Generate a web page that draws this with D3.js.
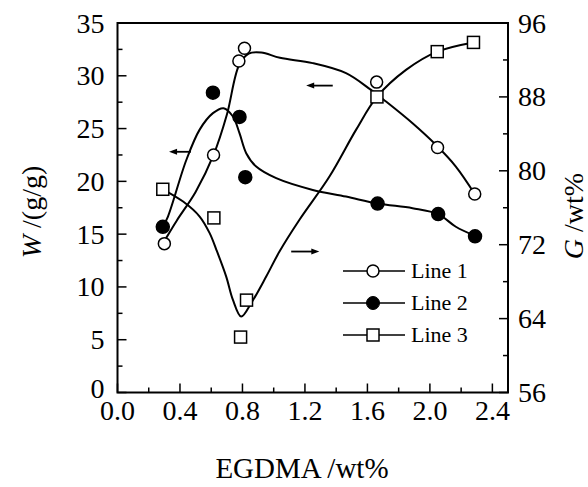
<!DOCTYPE html>
<html>
<head>
<meta charset="utf-8">
<script src="https://cdn.jsdelivr.net/npm/d3@7"></script>
<style>
  html, body { margin: 0; padding: 0; background: #fff; }
  svg { display: block; }
  text { font-family: "Liberation Serif", "Times New Roman", serif; fill: #000; }
</style>
</head>
<body>
<svg id="chart" width="588" height="487"></svg>
<script>
// Measured samples (EGDMA content in wt%)
const line1X = [0.30, 0.615, 0.777, 0.813, 1.659, 2.049, 2.287];
const line1W = [14.1, 22.5, 31.4, 32.6, 29.4, 23.2, 18.8];

const line2X = [0.29, 0.611, 0.781, 0.818, 1.665, 2.053, 2.289];
const line2W = [15.7, 28.4, 26.1, 20.4, 17.9, 16.9, 14.8];

const line3X = [0.29, 0.617, 0.788, 0.826, 1.661, 2.047, 2.279];
const line3G = [78.0, 74.9, 62.0, 66.0, 88.0, 92.9, 93.9];

// Smoothed trend curves for each series
const fit1X = [0.31, 0.38, 0.50, 0.615, 0.70, 0.778, 0.84, 0.92, 1.04, 1.25, 1.463, 1.623, 1.719, 1.889, 2.038, 2.166, 2.287];
const fit1W = [14.6, 16.3, 19.0, 22.5, 26.3, 31.0, 32.1, 32.2, 31.7, 31.2, 30.25, 28.66, 27.56, 25.5, 23.46, 21.4, 18.8];

const fit2X = [0.29, 0.323, 0.44, 0.526, 0.611, 0.679, 0.739, 0.781, 0.824, 0.888, 1.016, 1.25, 1.463, 1.665, 1.889, 2.053, 2.166, 2.289];
const fit2W = [15.7, 16.67, 22.0, 24.9, 26.46, 26.93, 26.14, 24.56, 22.67, 21.4, 20.3, 19.19, 18.56, 17.9, 17.46, 16.9, 15.7, 14.84];

const fit3X = [0.29, 0.42, 0.526, 0.59, 0.633, 0.696, 0.739, 0.792, 0.856, 0.952, 1.037, 1.165, 1.357, 1.527, 1.661, 1.847, 2.047, 2.279];
const fit3G = [78.0, 76.67, 75.05, 73.25, 71.45, 68.55, 66.03, 64.22, 65.68, 68.55, 71.26, 74.7, 79.38, 84.43, 88.0, 90.92, 92.9, 93.9];

// Axis ticks
const xTicks = [0.0, 0.4, 0.8, 1.2, 1.6, 2.0, 2.4];
const xMinor = [0.2, 0.6, 1.0, 1.4, 1.8, 2.2];
const wTicks = [0, 5, 10, 15, 20, 25, 30, 35];
const wMinor = [2.5, 7.5, 12.5, 17.5, 22.5, 27.5, 32.5];
const gTicks = [56, 64, 72, 80, 88, 96];
const gMinor = [60, 68, 76, 84, 92];

// Legend entries
const legendNames = ["Line 1", "Line 2", "Line 3"];
const legendSymbols = ["open-circle", "filled-circle", "open-square"];

// Direction arrows: [xStart, xEnd, value] pointing from start to end
const arrowsW = [[0.47, 0.33, 22.8], [1.378, 1.208, 29.07]];
const arrowsG = [[1.112, 1.292, 71.26]];

const svg = d3.select("#chart");
const plotLeft = 117.5, plotRight = 508, plotTop = 23, plotBottom = 392.5;

const x = d3.scaleLinear().domain([0, 2.5]).range([plotLeft, plotRight]);
const yW = d3.scaleLinear().domain([0, 35]).range([plotBottom, plotTop]);
const yG = d3.scaleLinear().domain([56, 96]).range([plotBottom, plotTop]);

const fontSize = 28;

// Frame
svg.append("rect")
  .attr("x", plotLeft).attr("y", plotTop)
  .attr("width", plotRight - plotLeft).attr("height", plotBottom - plotTop)
  .attr("fill", "none").attr("stroke", "#000").attr("stroke-width", 2);

// Bottom axis ticks (pointing inward)
const ticksG = svg.append("g").attr("stroke", "#000").attr("stroke-width", 1.5);
xTicks.forEach(v => ticksG.append("line")
  .attr("x1", x(v)).attr("x2", x(v)).attr("y1", plotBottom).attr("y2", plotBottom - 9));
xMinor.forEach(v => ticksG.append("line")
  .attr("x1", x(v)).attr("x2", x(v)).attr("y1", plotBottom).attr("y2", plotBottom - 5));
// Left axis ticks
wTicks.forEach(v => ticksG.append("line")
  .attr("x1", plotLeft).attr("x2", plotLeft + 9).attr("y1", yW(v)).attr("y2", yW(v)));
wMinor.forEach(v => ticksG.append("line")
  .attr("x1", plotLeft).attr("x2", plotLeft + 5).attr("y1", yW(v)).attr("y2", yW(v)));
// Right axis ticks
gTicks.forEach(v => ticksG.append("line")
  .attr("x1", plotRight).attr("x2", plotRight - 9).attr("y1", yG(v)).attr("y2", yG(v)));
gMinor.forEach(v => ticksG.append("line")
  .attr("x1", plotRight).attr("x2", plotRight - 5).attr("y1", yG(v)).attr("y2", yG(v)));

// Tick labels
svg.append("g").selectAll("text").data(xTicks).join("text")
  .attr("x", d => x(d)).attr("y", plotBottom + 27)
  .attr("text-anchor", "middle").attr("font-size", fontSize)
  .text(d => d3.format(".1f")(d));

svg.append("g").selectAll("text").data(wTicks).join("text")
  .attr("x", plotLeft - 13).attr("y", d => yW(d))
  .attr("dy", d => d === 0 ? "0.2em" : "0.34em")
  .attr("text-anchor", "end").attr("font-size", fontSize)
  .text(d => d);

svg.append("g").selectAll("text").data(gTicks).join("text")
  .attr("x", plotRight + 10).attr("y", d => yG(d))
  .attr("dy", "0.34em")
  .attr("text-anchor", "start").attr("font-size", fontSize)
  .text(d => d);

// Axis titles
svg.append("text")
  .attr("x", 302).attr("y", 478)
  .attr("text-anchor", "middle").attr("font-size", 29)
  .text("EGDMA /wt%");

const wTitle = svg.append("text")
  .attr("transform", "translate(41,212) rotate(-90)")
  .attr("text-anchor", "middle").attr("font-size", fontSize);
wTitle.append("tspan").attr("font-style", "italic").text("W");
wTitle.append("tspan").text(" /(g/g)");

const gTitle = svg.append("text")
  .attr("transform", "translate(583,216) rotate(-90)")
  .attr("text-anchor", "middle").attr("font-size", fontSize);
gTitle.append("tspan").attr("font-style", "italic").text("G");
gTitle.append("tspan").text(" /wt%");

// Trend curves
const curve = d3.curveCatmullRom.alpha(0.5);
const lineW = d3.line().x(d => x(d[0])).y(d => yW(d[1])).curve(curve);
const lineG = d3.line().x(d => x(d[0])).y(d => yG(d[1])).curve(curve);

const curves = svg.append("g").attr("fill", "none").attr("stroke", "#000").attr("stroke-width", 2);
curves.append("path").attr("d", lineW(d3.zip(fit1X, fit1W)));
curves.append("path").attr("d", lineW(d3.zip(fit2X, fit2W)));
curves.append("path").attr("d", lineG(d3.zip(fit3X, fit3G)));

// Markers
const mk = svg.append("g").attr("stroke", "#000").attr("stroke-width", 1.5);
d3.zip(line1X, line1W).forEach(([a, b]) => mk.append("circle")
  .attr("cx", x(a)).attr("cy", yW(b)).attr("r", 6).attr("fill", "#fff"));
d3.zip(line2X, line2W).forEach(([a, b]) => mk.append("circle")
  .attr("cx", x(a)).attr("cy", yW(b)).attr("r", 6.5).attr("fill", "#000"));
d3.zip(line3X, line3G).forEach(([a, b]) => mk.append("rect")
  .attr("x", x(a) - 6).attr("y", yG(b) - 6).attr("width", 12).attr("height", 12).attr("fill", "#fff"));

// Arrows
function drawArrow(x1, x2, yy) {
  const px1 = x(x1), px2 = x(x2);
  const dir = Math.sign(px2 - px1);
  svg.append("line").attr("x1", px1).attr("x2", px2 - dir * 4).attr("y1", yy).attr("y2", yy)
    .attr("stroke", "#000").attr("stroke-width", 1.8);
  svg.append("path")
    .attr("d", `M${px2},${yy} L${px2 - dir * 8},${yy - 3} L${px2 - dir * 8},${yy + 3} Z`)
    .attr("fill", "#000");
}
arrowsW.forEach(([a, b, v]) => drawArrow(a, b, yW(v)));
arrowsG.forEach(([a, b, v]) => drawArrow(a, b, yG(v)));

// Legend
const legend = svg.append("g");
legendNames.forEach((name, i) => {
  const ly = 271 + i * 32;
  legend.append("line").attr("x1", 343).attr("x2", 405).attr("y1", ly).attr("y2", ly)
    .attr("stroke", "#000").attr("stroke-width", 1.6);
  const sym = legendSymbols[i];
  if (sym === "open-circle") {
    legend.append("circle").attr("cx", 373).attr("cy", ly).attr("r", 6)
      .attr("fill", "#fff").attr("stroke", "#000").attr("stroke-width", 1.5);
  } else if (sym === "filled-circle") {
    legend.append("circle").attr("cx", 373).attr("cy", ly).attr("r", 6.5)
      .attr("fill", "#000").attr("stroke", "#000");
  } else {
    legend.append("rect").attr("x", 367).attr("y", ly - 6).attr("width", 12).attr("height", 12)
      .attr("fill", "#fff").attr("stroke", "#000").attr("stroke-width", 1.5);
  }
  legend.append("text").attr("x", 411).attr("y", ly).attr("dy", "0.34em")
    .attr("font-size", 22).text(name);
});
</script>
</body>
</html>
